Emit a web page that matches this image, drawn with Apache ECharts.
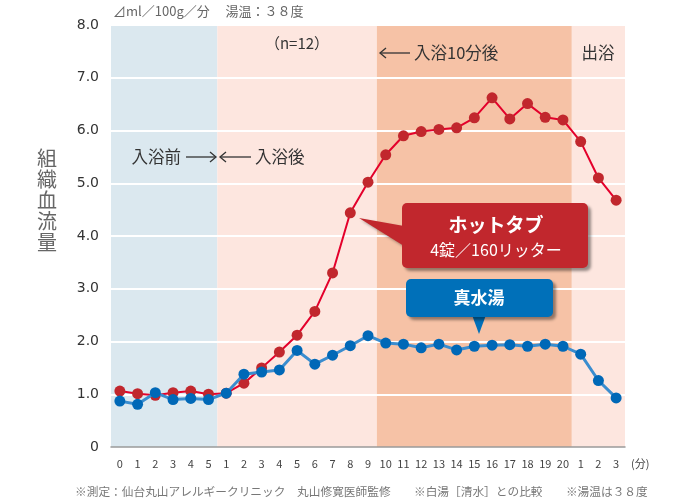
<!DOCTYPE html>
<html>
<head>
<meta charset="utf-8">
<script src="https://cdn.jsdelivr.net/npm/echarts@6/dist/echarts.min.js"></script>
<style>html,body{margin:0;padding:0;background:#fff}#c{width:680px;height:500px}</style>
</head>
<body>
<div id="c"></div>
<script>
// ---- data ----
const preLabels = ['0','1','2','3','4','5'];
const bathLabels = ['1','2','3','4','5','6','7','8','9','10','11','12','13','14','15','16','17','18','19','20'];
const afterLabels = ['1','2','3'];
const categories = preLabels.concat(bathLabels, afterLabels);

const hotTab = [1.06,1.01,0.98,1.03,1.06,1.00,
  1.02,1.21,1.50,1.80,2.12,2.57,3.30,4.44,5.02,
  5.54,5.90,5.98,6.02,6.05,6.24,6.62,6.22,6.51,6.25,6.20,
  5.79,5.10,4.68];
const pureWater = [0.87,0.81,1.03,0.90,0.92,0.90,
  1.02,1.38,1.42,1.46,1.83,1.57,1.74,1.92,2.11,
  1.97,1.95,1.88,1.95,1.84,1.91,1.93,1.94,1.91,1.95,1.91,
  1.76,1.26,0.93];

const yMin = 0, yMax = 8, yStep = 1;
// phase spans (category index ranges): before bath, bath 1-9, bath 10-20, after bath
const phaseSpans = [[0,5],[6,14],[15,25],[26,28]];

// ---- styles ----
const bandColors = ['#dbe8ef','#fde6df','#f6c2a6','#fde6df'];
const JP = '"Noto Sans CJK JP","DejaVu Sans",sans-serif';
const arrowStyle = {stroke:'#333', lineWidth:1.3, fill:'none'};

const chart = echarts.init(document.getElementById('c'), null, {renderer:'canvas'});
chart.setOption({
  animation: false,
  backgroundColor: '#ffffff',
  grid: {left: 111, right: 55, top: 25, bottom: 53},
  xAxis: {
    type: 'category', data: categories, boundaryGap: true, z: 3,
    axisLine: {lineStyle: {color: '#9a9a9a', width: 1.5}},
    axisTick: {inside: true, length: 5, lineStyle: {color: '#8a8a8a'}},
    axisLabel: {interval: 0, color: '#444', fontSize: 11, margin: 11, fontFamily: JP},
    name: '(分)', nameLocation: 'end', nameGap: 6,
    nameTextStyle: {color: '#444', fontSize: 11, fontFamily: JP, verticalAlign: 'top', padding: [11,0,0,0]}
  },
  yAxis: {
    type: 'value', min: yMin, max: yMax, interval: yStep, z: 1,
    axisLine: {show: false}, axisTick: {show: false},
    splitLine: {show: true, showMinLine: false, lineStyle: {color: '#ffffff', width: 2}},
    axisLabel: {color: '#333', fontSize: 14, margin: 12, fontFamily: '"DejaVu Sans",sans-serif',
      formatter: v => v === 0 ? '0' : v.toFixed(1)}
  },
  series: [
    {
      type: 'custom', z: 0, silent: true,
      data: phaseSpans,
      encode: {x: [0,1]},
      renderItem: function (params, api) {
        const s = api.value(0), e = api.value(1);
        const tl = api.coord([s, yMax]);
        const br = api.coord([e, yMin]);
        const w = api.size([1, 0])[0];
        return {type: 'rect',
          shape: {x: tl[0] - w/2, y: tl[1], width: br[0] - tl[0] + w, height: br[1] - tl[1]},
          style: {fill: bandColors[params.dataIndex]}};
      }
    },
    {
      name: 'ホットタブ', type: 'line', data: hotTab, z: 3,
      symbol: 'circle', symbolSize: 11,
      itemStyle: {color: '#c1272d'},
      lineStyle: {color: '#e4002b', width: 2}
    },
    {
      name: '真水湯', type: 'line', data: pureWater, z: 4,
      symbol: 'circle', symbolSize: 11,
      itemStyle: {color: '#0068b7'},
      lineStyle: {color: '#3a8dcf', width: 3}
    }
  ],
  graphic: [
    {type:'text', z:10, x: 113, y: 11, style:{text:'⊿ml／100g／分　 湯温：３８度', fill:'#666', font:'13px '+JP, verticalAlign:'middle'}},
    {type:'text', z:10, x: 47, y: 200, style:{text:'組\n織\n血\n流\n量', fill:'#666', font:'20px '+JP, lineHeight: 21, align:'center', verticalAlign:'middle'}},
    {type:'text', z:10, x: 297, y: 43, style:{text:'（n=12）', fill:'#333', font:'15px '+JP, align:'center', verticalAlign:'middle'}},
    // ← 入浴10分後
    {type:'polyline', z:10, shape:{points:[[380,53],[410,53]]}, style:arrowStyle},
    {type:'polyline', z:10, shape:{points:[[386,48],[380,53],[386,58]]}, style:arrowStyle},
    {type:'text', z:10, x: 414, y: 53, style:{text:'入浴10分後', fill:'#333', font:'16.5px '+JP, align:'left', verticalAlign:'middle'}},
    {type:'text', z:10, x: 598, y: 53, style:{text:'出浴', fill:'#333', font:'16.5px '+JP, align:'center', verticalAlign:'middle'}},
    // 入浴前 →← 入浴後
    {type:'text', z:10, x: 181, y: 157, style:{text:'入浴前', fill:'#333', font:'16.5px '+JP, align:'right', verticalAlign:'middle'}},
    {type:'polyline', z:10, shape:{points:[[186,157],[216,157]]}, style:arrowStyle},
    {type:'polyline', z:10, shape:{points:[[210,152],[216,157],[210,162]]}, style:arrowStyle},
    {type:'polyline', z:10, shape:{points:[[220,157],[251,157]]}, style:arrowStyle},
    {type:'polyline', z:10, shape:{points:[[226,152],[220,157],[226,162]]}, style:arrowStyle},
    {type:'text', z:10, x: 255, y: 157, style:{text:'入浴後', fill:'#333', font:'16.5px '+JP, align:'left', verticalAlign:'middle'}},
    // red callout
    {type:'polygon', z:10, shape:{points:[[359,218],[404,226],[404,246]]},
      style:{fill:'#c1272d', shadowBlur:3, shadowColor:'rgba(0,0,0,0.35)', shadowOffsetX:2, shadowOffsetY:2}},
    {type:'rect', z:11, shape:{x:402, y:203, width:186, height:65, r:5},
      style:{fill:'#c1272d', shadowBlur:3, shadowColor:'rgba(0,0,0,0.4)', shadowOffsetX:3, shadowOffsetY:3}},
    {type:'text', z:12, x: 496, y: 225, style:{text:'ホットタブ', fill:'#fff', font:'bold 19px '+JP, align:'center', verticalAlign:'middle'}},
    {type:'text', z:12, x: 496, y: 250, style:{text:'4錠／160リッター', fill:'#fff', font:'16px '+JP, align:'center', verticalAlign:'middle'}},
    // blue callout
    {type:'polygon', z:10, shape:{points:[[472,315],[486,315],[479,334]]},
      style:{fill:'#0070b9'}},
    {type:'rect', z:11, shape:{x:406, y:279, width:147, height:38, r:5},
      style:{fill:'#0070b9', shadowBlur:3, shadowColor:'rgba(0,0,0,0.4)', shadowOffsetX:3, shadowOffsetY:3}},
    {type:'text', z:12, x: 479, y: 298, style:{text:'真水湯', fill:'#fff', font:'bold 17px '+JP, align:'center', verticalAlign:'middle'}},
    // footnote
    {type:'text', z:10, x: 75, y: 492, style:{text:'※測定：仙台丸山アレルギークリニック　丸山修寛医師監修　　※白湯［清水］との比較　　※湯温は３８度', fill:'#777', font:'11.7px '+JP, align:'left', verticalAlign:'middle'}}
  ]
});
</script>
</body>
</html>
